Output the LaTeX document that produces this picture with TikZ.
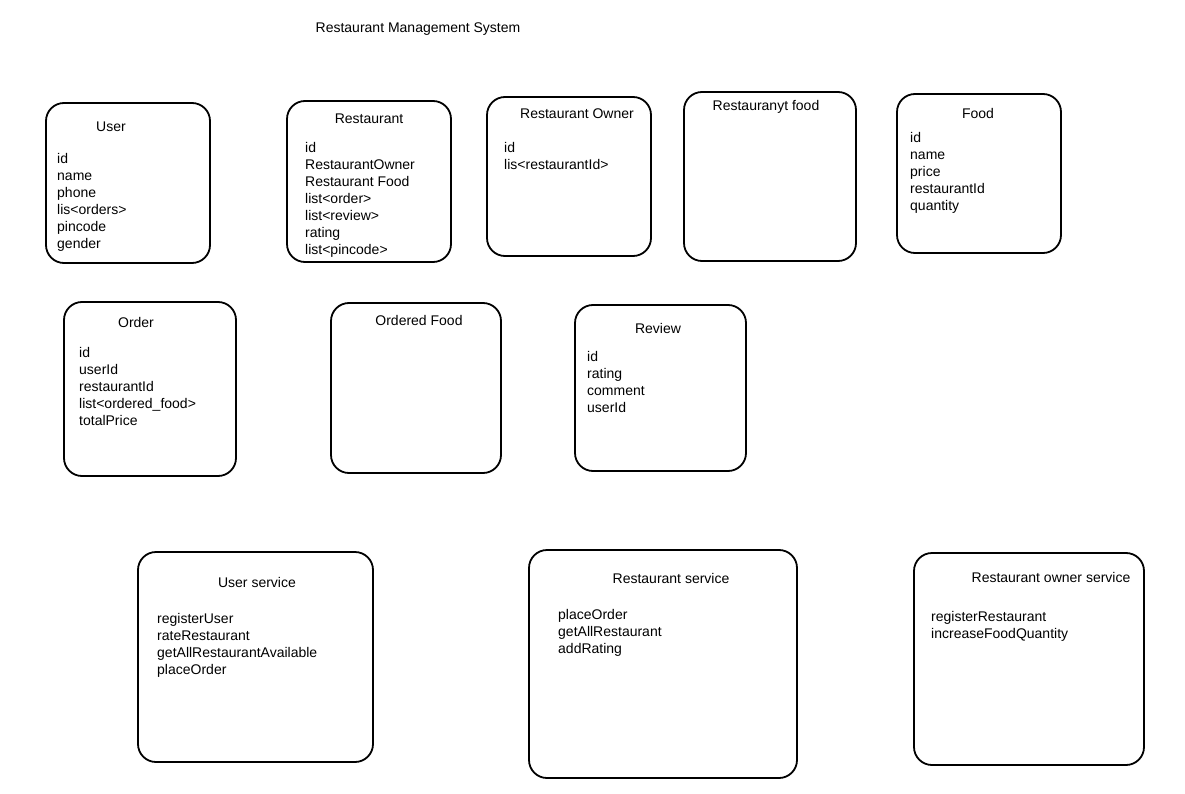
\documentclass[tikz,border=0pt]{standalone}
\usepackage{fontspec}
\setmainfont{Liberation Sans}
\begin{document}
\begin{tikzpicture}[x=1pt,y=-1pt,
  box/.style={draw, line width=1.8pt, rounded corners=18pt, inner sep=0pt},
  head/.style={inner sep=0pt, font=\fontsize{14}{17}\selectfont},
  attrs/.style={anchor=north west, align=left, inner sep=0pt, font=\fontsize{14}{17}\selectfont}]
\useasboundingbox (0,0) rectangle (1185,794);
\node[head] (title) at (418,29) {Restaurant Management System};
% boxes: name/centre x/centre y/width/height
\foreach \n/\x/\y/\w/\h in {user/128/183/164/160, rest/369/181.5/164/161,
  owner/569/176.5/164/159, rfood/770/176.5/172/169, food/979/173.5/164/159,
  order/150/389/172/174, ofood/416/388/170/170, review/660.5/388/171/166,
  usvc/255.5/657/235/210, rsvc/663/664/268/228, osvc/1029/659/230/212}
{\node[box, minimum width=\w pt, minimum height=\h pt] (\n) at (\x,\y) {};}
% headings
\node[head] (user-h) at (111,127) {User};
\node[head] (rest-h) at (369,119) {Restaurant};
\node[head] (owner-h) at (577,114) {Restaurant Owner};
\node[head] (rfood-h) at (766,107) {Restauranyt food};
\node[head] (food-h) at (978,113) {Food};
\node[head] (order-h) at (136,322) {Order};
\node[head] (ofood-h) at (419,320) {Ordered Food};
\node[head] (review-h) at (658,328) {Review};
\node[head] (usvc-h) at (257,582) {User service};
\node[head] (rsvc-h) at (671,578) {Restaurant service};
\node[head] (osvc-h) at (1051,577) {Restaurant owner service};
% fields
\node[attrs] (user-f) at (57,153) {id\\name\\phone\\lis<orders>\\pincode\\gender};
\node[attrs] (rest-f) at (305,142) {id\\RestaurantOwner\\Restaurant Food\\list<order>\\list<review>\\rating\\list<pincode>};
\node[attrs] (owner-f) at (504,142) {id\\lis<restaurantId>};
\node[attrs] (food-f) at (910,132) {id\\name\\price\\restaurantId\\quantity};
\node[attrs] (order-f) at (79,347) {id\\userId\\restaurantId\\list<ordered\_food>\\totalPrice};
\node[attrs] (review-f) at (587,351) {id\\rating\\comment\\userId};
\node[attrs] (usvc-f) at (157,613) {registerUser\\rateRestaurant\\getAllRestaurantAvailable\\placeOrder};
\node[attrs] (rsvc-f) at (558,609) {placeOrder\\getAllRestaurant\\addRating};
\node[attrs] (osvc-f) at (931,611) {registerRestaurant\\increaseFoodQuantity};
\end{tikzpicture}
\end{document}
